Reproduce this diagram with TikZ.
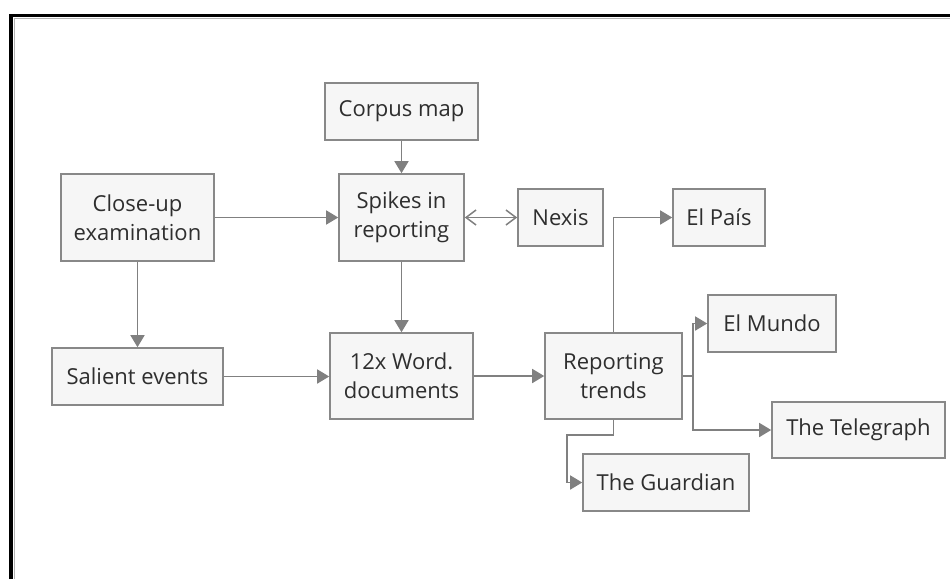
\documentclass[tikz,border=0pt]{standalone}
\usepackage{fontspec}
\setmainfont{Open Sans}
\usetikzlibrary{arrows.meta}
\definecolor{boxfill}{HTML}{F6F6F6}
\definecolor{boxdraw}{HTML}{888888}
\definecolor{linecol}{HTML}{808080}
\definecolor{textcol}{HTML}{2E2E2E}
\begin{document}
\begin{tikzpicture}[x=1pt,y=-1pt,
  box/.style={draw=boxdraw, fill=boxfill, line width=1.6pt, inner sep=0pt,
    align=center, text=textcol, font=\fontsize{22}{29}\selectfont},
  conn/.style={draw=linecol, line width=1.7pt, -{Triangle[length=12pt,width=14pt]}},
  both/.style={draw=linecol, line width=1.5pt, {Straight Barb[length=10pt,width=15pt]}-{Straight Barb[length=10pt,width=15pt]}},
  plain/.style={draw=linecol, line width=1.7pt}]
\useasboundingbox (0,0) rectangle (950,579);
% frame
\draw[line width=3.5pt, black] (11.2,579) -- (11.2,15.7) -- (950,15.7);
\draw[line width=0.8pt, black!30] (14,579) -- (14,18.6) -- (950,18.6);
% nodes
\node[box, minimum width=153pt, minimum height=57pt] (corpus) at (401.5,111.5) {Corpus map};
\node[box, minimum width=125pt, minimum height=87pt] (spikes) at (401.5,217.5) {Spikes in\\reporting};
\node[box, minimum width=153pt, minimum height=87pt] (closeup) at (137.5,217.5) {Close-up\\examination};
\node[box, minimum width=85pt, minimum height=57pt] (nexis) at (560.5,217.5) {Nexis};
\node[box, minimum width=92pt, minimum height=57pt] (pais) at (719,217.5) {El País};
\node[box, minimum width=128pt, minimum height=57pt] (mundo) at (772,323.5) {El Mundo};
\node[box, minimum width=137pt, minimum height=86pt] (trends) at (613.5,376) {Reporting\\trends};
\node[box, minimum width=173pt, minimum height=56pt] (telegraph) at (858.5,430) {The Telegraph};
\node[box, minimum width=166pt, minimum height=57pt] (guardian) at (666,482.5) {The Guardian};
\node[box, minimum width=171pt, minimum height=57pt] (salient) at (137.5,376.5) {Salient events};
\node[box, minimum width=143pt, minimum height=86pt] (word) at (401.5,376) {12x Word.\\documents};
% connectors
\draw[conn] (corpus.south) -- (spikes.north);
\draw[conn] (closeup.east) -- (spikes.west);
\draw[both] (spikes.east) -- (nexis.west);
\draw[conn] (spikes.south) -- (word.north);
\draw[conn] (closeup.south) -- (salient.north);
\draw[conn] (salient.east) -- (word.west |- salient.east);
\draw[conn] (word.east) -- (trends.west);
\draw[conn] (trends.north) |- (pais.west);
\coordinate (fork) at (693,376);
\draw[plain] (trends.east) -- (fork);
\draw[conn] (fork) |- (mundo.west);
\draw[conn] (fork) |- (telegraph.west);
\coordinate (gbend) at (567,435);
\draw[conn] (trends.south) |- (gbend) |- (guardian.west);
\end{tikzpicture}
\end{document}
